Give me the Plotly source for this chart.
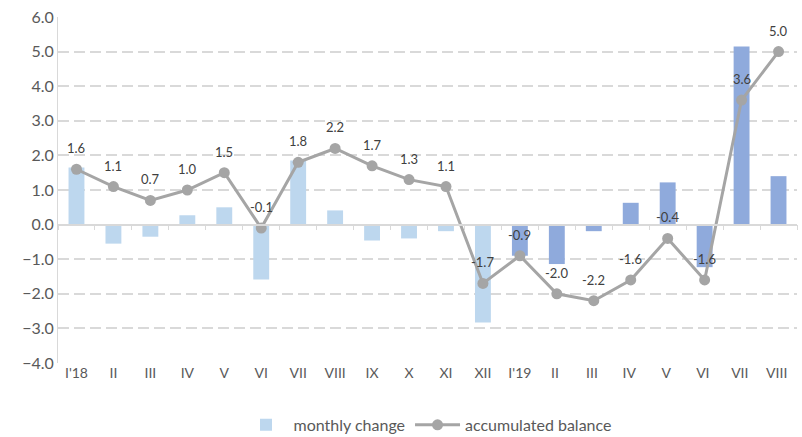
import plotly.graph_objects as go

categories = ["I'18", "II", "III", "IV", "V", "VI", "VII", "VIII", "IX", "X", "XI", "XII",
              "I'19", "II ", "III ", "IV ", "V ", "VI ", "VII ", "VIII "]
monthly_change = [1.65, -0.55, -0.35, 0.27, 0.5, -1.59, 1.85, 0.41, -0.46, -0.4, -0.19, -2.83,
                  -0.9, -1.14, -0.19, 0.63, 1.22, -1.23, 5.15, 1.4]
accumulated = [1.6, 1.1, 0.7, 1.0, 1.5, -0.1, 1.8, 2.2, 1.7, 1.3, 1.1, -1.7,
               -0.9, -2.0, -2.2, -1.6, -0.4, -1.6, 3.6, 5.0]
bar_colors = ["#bdd7ee"] * 12 + ["#8faadc"] * 8
y_ticks = [-4, -3, -2, -1, 0, 1, 2, 3, 4, 5, 6]

FONT = "Lato"

fig = go.Figure()
fig.add_trace(go.Bar(
    x=categories, y=monthly_change, name="monthly change",
    marker=dict(color=bar_colors, line=dict(width=0)),
    hoverinfo="skip",
))
fig.add_trace(go.Scatter(
    x=categories, y=accumulated, name="accumulated balance",
    mode="lines+markers",
    line=dict(color="#a5a5a5", width=3),
    marker=dict(color="#a5a5a5", size=11),
    cliponaxis=False,
))
# helper axis at y=0 for the category tick marks
fig.add_trace(go.Scatter(
    x=categories, y=[0] * len(categories), xaxis="x2", mode="markers",
    marker=dict(opacity=0), showlegend=False, hoverinfo="skip",
))

for c, v in zip(categories, accumulated):
    fig.add_annotation(x=c, y=v, text=f"{v:.1f}", showarrow=False, yshift=21,
                       font=dict(family=FONT, size=13, color="#404040"))

fig.update_layout(
    width=802, height=437,
    margin=dict(l=58, r=5, t=17, b=74, autoexpand=False),
    paper_bgcolor="white", plot_bgcolor="white",
    bargap=0.57,
    font=dict(family=FONT, color="#595959"),
    showlegend=True,
    legend=dict(orientation="h", x=0.5, xanchor="center", y=-0.179, yanchor="middle",
                font=dict(family=FONT, size=16, color="#595959"),
                traceorder="normal", itemwidth=45),
    xaxis=dict(
        type="category", categoryarray=categories, range=[-0.5, 19.5],
        showgrid=False, zeroline=False, showline=False, ticks="",
        tickfont=dict(family=FONT, size=14, color="#595959"),
    ),
    xaxis2=dict(
        type="category", categoryarray=categories, range=[-0.5, 19.5],
        overlaying="x", anchor="free", position=0.4,
        showgrid=False, zeroline=False, showline=True, linecolor="#d9d9d9", linewidth=1.5,
        ticks="outside", tickson="boundaries", ticklen=5, tickcolor="#d9d9d9", tickwidth=1,
        showticklabels=False,
    ),
    yaxis=dict(
        range=[-4, 6], tickvals=y_ticks, tickformat=".1f",
        showgrid=True, gridcolor="#d9d9d9", gridwidth=1.5, griddash="11px,5px",
        zeroline=False, showline=True, linecolor="#d9d9d9", linewidth=1,
        ticks="", ticklen=0, ticklabelstandoff=0,
        tickfont=dict(family=FONT, size=16, color="#595959"),
    ),
)

fig.write_html("out.html", config={"displayModeBar": False},
               post_script="document.body.style.margin='0';document.body.style.overflow='hidden';")
